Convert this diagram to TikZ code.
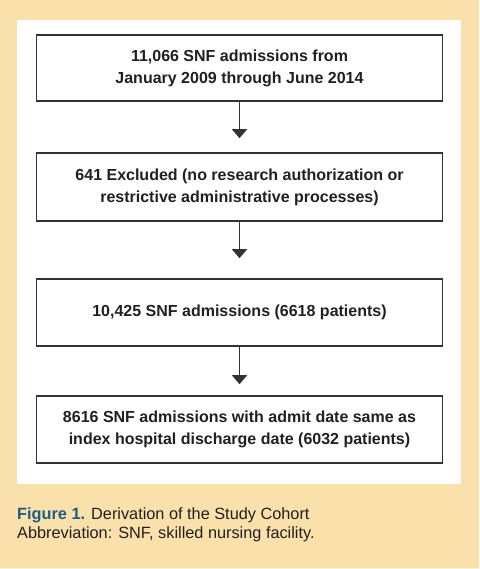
\documentclass[tikz,border=0pt]{standalone}
\usepackage{fontspec}
\setmainfont{Liberation Sans}
\usetikzlibrary{arrows.meta}
\definecolor{peach}{HTML}{FAE1AB}
\definecolor{boxline}{HTML}{333333}
\definecolor{txt}{HTML}{231F20}
\definecolor{figblue}{HTML}{1D5C83}
\definecolor{stripe}{HTML}{FCF1DC}
\begin{document}
\begin{tikzpicture}[x=1pt,y=1pt,
  flowbox/.style={draw=boxline, line width=1.6pt, fill=white, minimum width=406pt, inner sep=0pt, align=center, text=txt, font=\bfseries\fontsize{16}{22}\selectfont},
  flowarrow/.style={draw=boxline, line width=1.6pt, -{Triangle[width=15pt,length=9pt]}},
  captext/.style={anchor=base west, inner sep=0pt, text=txt, font=\fontsize{16.3}{19}\selectfont}]
\useasboundingbox (0,0) rectangle (479,-569);
\fill[peach] (0,0) rectangle (479,-569);
\fill[stripe] (0,-567.5) rectangle (479,-569);
\fill[white] (17,-20) rectangle (461,-484);
\node[flowbox, minimum height=66pt] (b1) at (239.5,-68) {11,066 SNF admissions from\\January 2009 through June 2014};
\node[flowbox, minimum height=68pt] (b2) at (239.5,-187) {641 Excluded (no research authorization or\\restrictive administrative processes)};
\node[flowbox, minimum height=67pt] (b3) at (239.5,-312.5) {10,425 SNF admissions (6618 patients)};
\node[flowbox, minimum height=67pt] (b4) at (239.5,-429.5) {8616 SNF admissions with admit date same as\\index hospital discharge date (6032 patients)};
\draw[flowarrow, shorten >=14pt] (b1.south) -- (b2.north);
\draw[flowarrow, shorten >=20pt] (b2.south) -- (b3.north);
\draw[flowarrow, shorten >=11pt] (b3.south) -- (b4.north);
\node[captext] (cap1) at (17,-519) {\textcolor{figblue}{\textbf{Figure 1.}} Derivation of the Study Cohort};
\node[captext] (cap2) at (17,-538) {Abbreviation: SNF, skilled nursing facility.};
\end{tikzpicture}
\end{document}
